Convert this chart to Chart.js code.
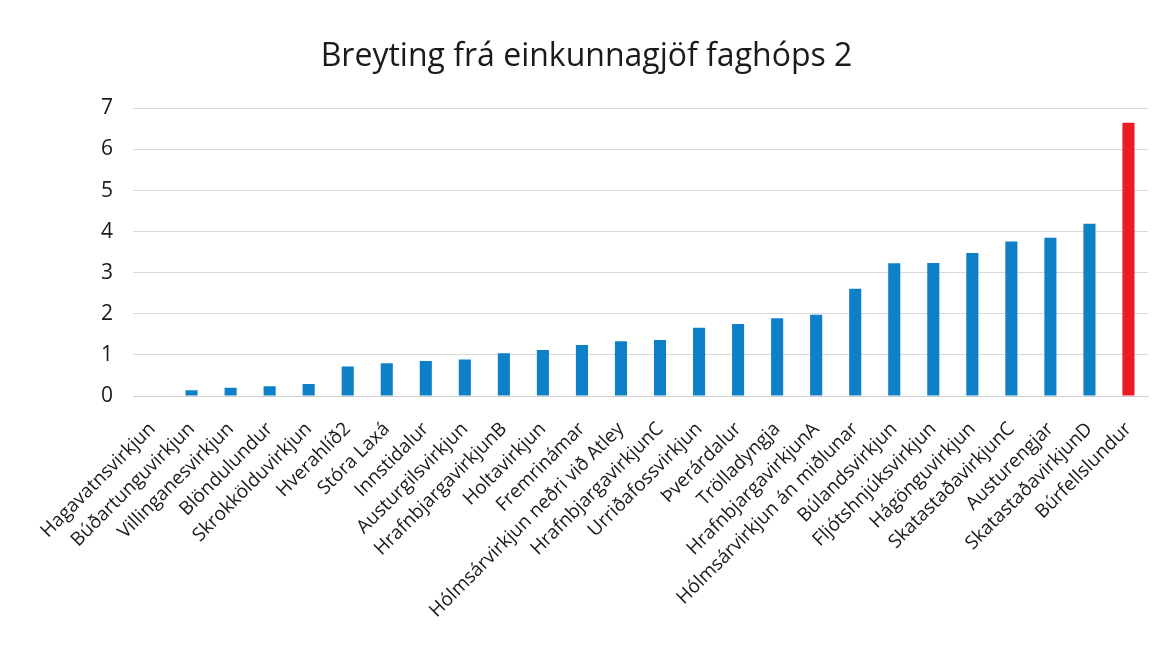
<!DOCTYPE html>
<html lang="is">
<head>
  <meta charset="UTF-8">
  <title>Breyting frá einkunnagjöf faghóps 2</title>
  <script src="https://cdn.jsdelivr.net/npm/chart.js"></script>
  <style>
    body {
      margin: 0;
      padding: 0;
      background-color: #fff;
    }
    #chart {
      display: block;
    }
  </style>
</head>
<body>
  <canvas id="chart" width="1173" height="647"></canvas>

  <script>
    // Kostir, raðað eftir breytingu
    const categories = [
      'Hagavatnsvirkjun', 'Búðartunguvirkjun', 'Villinganesvirkjun', 'Blöndulundur',
      'Skrokkölduvirkjun', 'Hverahlíð2', 'Stóra Laxá', 'Innstidalur',
      'Austurgilsvirkjun', 'HrafnbjargavirkjunB', 'Holtavirkjun', 'Fremrinámar',
      'Hólmsárvirkjun neðri við Atley', 'HrafnbjargavirkjunC', 'Urriðafossvirkjun',
      'Þverárdalur', 'Trölladyngja', 'HrafnbjargavirkjunA', 'Hólmsárvirkjun án miðlunar',
      'Búlandsvirkjun', 'Fljótshnjúksvirkjun', 'Hágönguvirkjun', 'SkatastaðavirkjunC',
      'Austurengjar', 'SkatastaðavirkjunD', 'Búrfellslundur'
    ];

    // Breyting (lesið af myndinni)
    const changeValues = [
      0, 0.14, 0.2, 0.24, 0.29, 0.72, 0.8, 0.85, 0.89, 1.04, 1.12, 1.24, 1.33,
      1.36, 1.66, 1.75, 1.89, 1.98, 2.61, 3.23, 3.24, 3.48, 3.76, 3.85, 4.19, 6.65
    ];

    const yTicks = [0, 1, 2, 3, 4, 5, 6, 7];
    const highlighted = 'Búrfellslundur';

    const fontFamily = "'Open Sans', sans-serif";

    new Chart(document.getElementById('chart'), {
      type: 'bar',
      data: {
        labels: categories,
        datasets: [{
          data: changeValues,
          backgroundColor: ctx => categories[ctx.dataIndex] === highlighted ? '#ec1c24' : '#0d80c8',
          borderWidth: 0,
          barPercentage: 0.31,
          categoryPercentage: 1
        }]
      },
      options: {
        responsive: false,
        animation: false,
        layout: {
          padding: 0
        },
        plugins: {
          legend: { display: false },
          tooltip: { enabled: false },
          title: {
            display: true,
            text: 'Breyting frá einkunnagjöf faghóps 2',
            color: '#1a1a1a',
            font: { family: fontFamily, size: 32, weight: 'normal' },
            padding: { top: 38, bottom: 32 }
          }
        },
        scales: {
          x: {
            grid: { display: false },
            border: { color: '#d0d0d0', width: 1 },
            ticks: {
              color: '#1a1a1a',
              font: { family: fontFamily, size: 19 },
              maxRotation: 45,
              minRotation: 45,
              autoSkip: false,
              padding: 14
            },
            afterFit: scale => { scale.height = 251; }
          },
          y: {
            min: 0,
            max: 7,
            afterBuildTicks: scale => {
              scale.ticks = yTicks.map(v => ({ value: v }));
            },
            grid: { color: '#d9d9d9', drawTicks: false },
            border: { display: false },
            ticks: {
              color: '#1a1a1a',
              font: { family: fontFamily, size: 21 },
              padding: 20
            },
            afterFit: scale => { scale.width = 133; }
          },
          // tómur ás hægra megin, heldur teiknisvæðinu frá brúninni
          yRight: {
            position: 'right',
            min: 0,
            max: 7,
            grid: { display: false },
            border: { display: false },
            ticks: { display: false },
            afterFit: scale => { scale.width = 25; }
          }
        }
      }
    });
  </script>
</body>
</html>
